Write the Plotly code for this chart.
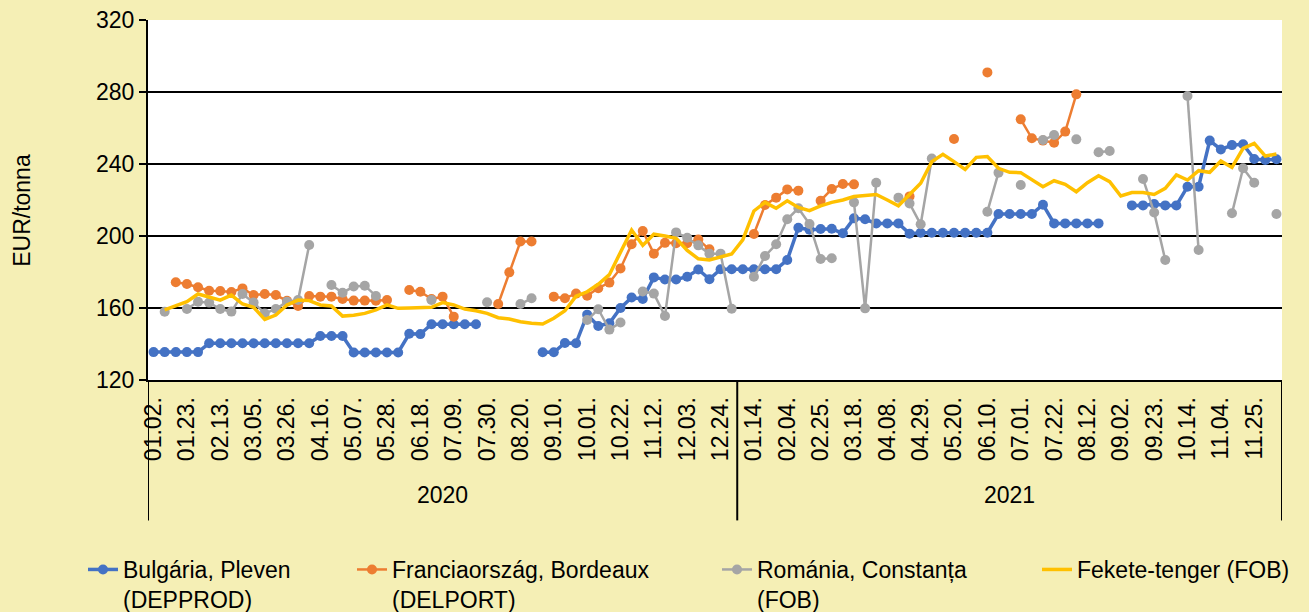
import plotly.graph_objects as go
from datetime import date, timedelta

# ---- categories (weekly, Thursdays) ----
weeks_2020 = [date(2020, 1, 2) + timedelta(weeks=i) for i in range(53)]
weeks_2021 = [date(2021, 1, 7) + timedelta(weeks=i) for i in range(49)]
weeks = weeks_2020 + weeks_2021
categories = [d.isoformat() for d in weeks]
week_labels = [f"{d.month:02d}.{d.day:02d}." for d in weeks]
years = ["2020", "2021"]

N = None
bulgaria = [
    135.5, 135.5, 135.5, 135.5, 135.5, 140.4, 140.4, 140.4, 140.4, 140.4,
    140.4, 140.4, 140.4, 140.4, 140.4, 144.4, 144.4, 144.4, 135.3, 135.3,
    135.3, 135.3, 135.3, 145.7, 145.5, 151.0, 151.0, 151.0, 151.0, 151.0,
    N, N, N, N, N, 135.4, 135.4, 140.6, 140.4, 156.3,
    150.0, 151.5, 160.0, 165.8, 165.0, 177.0, 175.8, 175.8, 177.4, 181.4,
    176.0, 181.5, 181.5, 181.5, 181.5, 181.5, 181.5, 186.7, 204.6, 203.5,
    203.9, 204.0, 201.5, 209.8, 209.3, 207.0, 207.0, 207.0, 201.3, 201.8,
    201.8, 201.8, 201.8, 201.8, 201.8, 201.8, 212.2, 212.2, 212.2, 212.2,
    217.4, 207.0, 207.0, 207.0, 207.0, 207.0, N, N, 217.0, 217.0,
    217.8, 217.0, 217.0, 227.4, 227.4, 253.0, 248.1, 250.5, 251.0, 242.8,
    242.2, 242.6,
]
francia = [
    N, N, 174.3, 173.3, 171.5, 169.6, 169.4, 168.9, 170.9, 167.2,
    167.8, 167.2, 164.0, 161.1, 166.7, 166.3, 166.3, 165.0, 164.1, 164.1,
    164.0, 164.4, N, 170.0, 169.0, 165.0, 166.3, 155.2, N, N,
    N, 162.2, 179.8, 196.9, 196.9, N, 166.3, 165.4, 168.0, 166.8,
    171.0, 174.1, 182.0, 195.4, 202.8, 190.2, 196.2, 196.0, 196.0, 198.0,
    192.6, N, N, N, 201.1, 217.2, 221.3, 225.9, 225.2, N,
    219.6, 226.1, 228.9, 228.7, N, N, N, N, 222.0, N,
    N, N, 253.9, N, N, 290.9, N, N, 264.8, 254.3,
    253.0, 251.8, 258.0, 278.7, N, N, N, N, N, N,
    N, N, N, N, N, N, N, N, N, N,
    N, N,
]
romania = [
    N, 157.9, N, 159.4, 163.5, 163.0, 159.4, 158.0, 167.8, 163.0,
    157.0, 159.4, 163.5, 164.4, 195.0, N, 172.8, 168.5, 171.9, 172.4,
    166.7, N, N, N, N, 164.4, N, N, N, N,
    163.2, N, N, 162.2, 165.4, N, N, N, N, 153.3,
    159.3, 148.0, 151.9, N, 169.2, 168.0, 155.6, 202.0, 199.0, 194.8,
    190.2, 190.2, 159.6, N, 177.4, 188.9, 195.4, 209.3, 215.4, 206.7,
    187.2, 187.6, N, 218.7, 159.8, 229.6, N, 221.3, 218.1, 206.5,
    243.1, N, N, N, N, 213.5, 235.2, N, 228.3, N,
    253.3, 256.1, N, 253.7, N, 246.5, 247.2, N, N, 231.7,
    213.1, 186.7, N, 277.8, 192.2, N, N, 212.6, 237.6, 229.6,
    N, 212.2,
]
fekete = [
    N, 158.9, 161.0, 163.5, 167.8, 166.3, 164.4, 167.2, 162.2, 160.4,
    153.7, 156.1, 161.7, 164.4, 164.1, 161.7, 161.1, 155.5, 156.0, 157.0,
    159.0, 161.7, 159.8, 160.0, 160.0, 160.4, 163.0, 161.7, 159.4, 158.5,
    157.0, 154.6, 153.9, 152.4, 151.5, 151.1, 154.3, 158.5, 166.5, 169.0,
    173.2, 178.5, 191.0, 203.3, 194.8, 201.0, 200.0, 198.7, 192.0, 187.3,
    186.7, 188.3, 190.0, 197.8, 213.9, 218.7, 215.4, 219.6, 215.9, 214.1,
    216.7, 218.7, 220.0, 221.9, 222.4, 223.1, 220.0, 216.8, 223.0, 229.3,
    241.3, 245.4, 241.3, 237.0, 243.7, 244.1, 237.6, 235.4, 235.2, 231.5,
    227.4, 230.7, 228.7, 224.6, 229.6, 233.5, 230.2, 222.2, 224.1, 224.1,
    223.1, 226.5, 233.9, 231.1, 236.3, 235.4, 241.7, 238.1, 248.7, 251.5,
    244.4, 245.6,
]

series = [
    ("Bulgária, Pleven<br>(DEPPROD)", bulgaria, "#4472C4", 3.5, True, "legend"),
    ("Franciaország, Bordeaux<br>(DELPORT)", francia, "#ED7D31", 2.5, True, "legend2"),
    ("Románia, Constanța<br>(FOB)", romania, "#A5A5A5", 2.5, True, "legend3"),
    ("Fekete-tenger (FOB)", fekete, "#FFC000", 3.5, False, "legend4"),
]

FONT = "Liberation Sans, Arial, sans-serif"
BG = "#F5EFB5"
W, H = 1309, 612
L, R, T, B = 148, 27, 20, 232
PW = W - L - R

fig = go.Figure()
for name, vals, color, lw, mk, lg in series:
    fig.add_trace(go.Scatter(
        x=categories, y=vals, name=name,
        mode="lines+markers" if mk else "lines",
        line=dict(color=color, width=lw),
        marker=dict(color=color, size=10) if mk else None,
        connectgaps=False, legend=lg, showlegend=True,
    ))

# multi-level category axis: dividers and year labels
n2020 = len(weeks_2020)
n_all = len(weeks)
for xb in (-0.5, n2020 - 0.5, n_all - 0.5):
    fig.add_shape(type="line", xref="x", yref="paper", x0=xb, x1=xb, y0=0, y1=-0.39,
                  line=dict(color="black", width=2))
fig.add_annotation(x=(n2020 - 1) / 2, y=-0.32, xref="x", yref="paper", text=years[0],
                   xanchor="center", yanchor="middle",
                   showarrow=False, font=dict(size=23, color="black", family=FONT))
fig.add_annotation(x=(n2020 + n_all - 1) / 2, y=-0.32, xref="x", yref="paper", text=years[1],
                   xanchor="center", yanchor="middle",
                   showarrow=False, font=dict(size=23, color="black", family=FONT))
fig.add_annotation(x=(22 - L) / PW, y=0.47, xref="paper", yref="paper", text="EUR/tonna",
                   xanchor="center", yanchor="middle",
                   textangle=-90, showarrow=False,
                   font=dict(size=23, color="black", family=FONT))

legend_common = dict(orientation="h", xref="container", yref="container",
                     yanchor="top", y=1 - 548 / H, xanchor="left",
                     valign="top", bgcolor="rgba(0,0,0,0)",
                     font=dict(size=23, color="black", family=FONT))
fig.update_layout(
    width=W, height=H, showlegend=True,
    margin=dict(l=L, r=R, t=T, b=B, autoexpand=False),
    paper_bgcolor=BG, plot_bgcolor="white",
    font=dict(family=FONT, size=23, color="black"),
    legend=dict(x=83 / W, **legend_common),
    legend2=dict(x=352 / W, **legend_common),
    legend3=dict(x=717 / W, **legend_common),
    legend4=dict(x=1037 / W, **legend_common),
    xaxis=dict(
        type="category", range=[-0.5, n_all - 0.5], automargin=False,
        tickmode="array", tickvals=categories[::3], ticktext=week_labels[::3],
        tickangle=-90, ticks="", showgrid=False, zeroline=False,
        showline=True, linecolor="black", linewidth=2,
        tickfont=dict(size=23, color="black", family=FONT), ticklabelstandoff=6,
    ),
    yaxis=dict(
        range=[120, 320], tickmode="array", tickvals=[120, 160, 200, 240, 280, 320],
        automargin=False,
        showgrid=True, gridcolor="black", gridwidth=2, zeroline=False,
        showline=True, linecolor="black", linewidth=2,
        ticks="outside", ticklen=7, tickwidth=2, tickcolor="black",
        tickfont=dict(size=23, color="black", family=FONT),
    ),
)

fig.write_html("out.html", config={"displayModeBar": False},
               post_script="document.body.style.margin='0px';")
